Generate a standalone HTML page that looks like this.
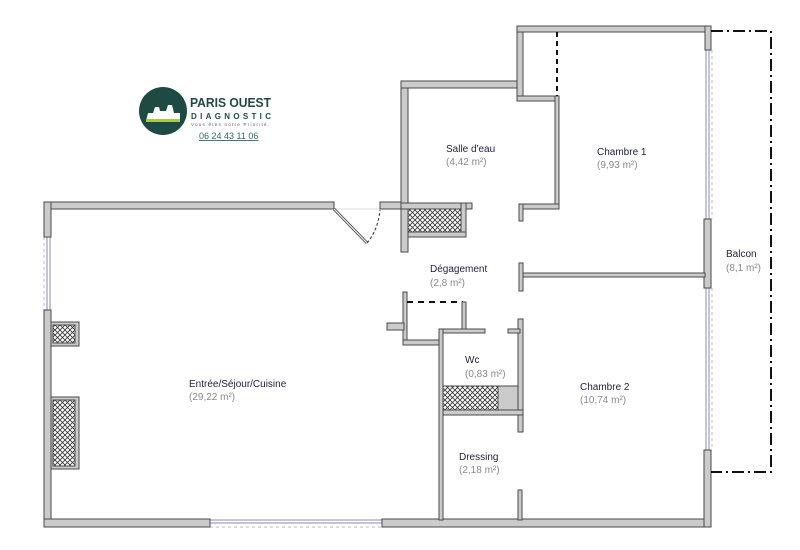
<!DOCTYPE html>
<html><head><meta charset="utf-8"><style>
html,body{margin:0;padding:0;background:#fff;}
svg{display:block;}
.l{font-family:"Liberation Sans",sans-serif;font-size:10px;fill:#22223f;}
.a{font-family:"Liberation Sans",sans-serif;font-size:10px;fill:#8a8a8a;}
.w{fill:#cbcbcb;stroke:#4a4a4a;stroke-width:1;}
.h{fill:url(#hatch);stroke:#4a4a4a;stroke-width:1;}
</style></head><body>
<svg width="800" height="550" viewBox="0 0 800 550" xmlns="http://www.w3.org/2000/svg">
<defs>
<pattern id="hatch" width="5" height="5" patternUnits="userSpaceOnUse">
<rect width="5" height="5" fill="#fff"/>
<path d="M0 0L5 5M5 0L0 5" stroke="#333" stroke-width="0.8"/>
</pattern>
</defs>

<!-- logo -->
<circle cx="163" cy="111" r="24" fill="#1e4a44"/>
<path d="M146 121 L148 113 L153 113 L155 107 L159 107 L160 111 L166 111 L168 105 L172 105 L174 113 L180 113 L180 121 Z" fill="#fff"/>
<rect x="146" y="119" width="34" height="3" fill="#a9c94a"/>
<text x="190" y="107" font-family="Liberation Sans,sans-serif" font-size="12.5" font-weight="bold" fill="#1e4a44" textLength="81" lengthAdjust="spacingAndGlyphs">PARIS OUEST</text>
<text x="191" y="119" font-family="Liberation Sans,sans-serif" font-size="8" font-weight="bold" fill="#1e4a44" textLength="80" lengthAdjust="spacing">DIAGNOSTIC</text>
<text x="191" y="126" font-family="Liberation Sans,sans-serif" font-size="4.5" fill="#556" textLength="78" lengthAdjust="spacing">Vous êtes notre Priorité.</text>
<text x="199" y="139" font-family="Liberation Sans,sans-serif" font-size="9" fill="#2e6b5e" text-decoration="underline">06 24 43 11 06</text>

<!-- windows (thin lines) -->
<g stroke="#8888bb" stroke-width="1" fill="none">
<line x1="47" y1="237" x2="47" y2="310"/><line x1="50" y1="237" x2="50" y2="310"/>
<line x1="210" y1="520" x2="382" y2="520"/><line x1="210" y1="523" x2="382" y2="523"/>
<line x1="706" y1="50" x2="706" y2="219"/><line x1="709" y1="50" x2="709" y2="219"/>
<line x1="706" y1="288" x2="706" y2="450"/><line x1="709" y1="288" x2="709" y2="450"/>
</g>
<g stroke="#bbb" stroke-width="1" stroke-dasharray="3,3" fill="none">
<line x1="44" y1="237" x2="44" y2="310"/>
<line x1="210" y1="527" x2="382" y2="527"/>
<line x1="712" y1="50" x2="712" y2="219"/>
<line x1="712" y1="288" x2="712" y2="450"/>
</g>
<line x1="334" y1="209" x2="380" y2="209" stroke="#ccc" stroke-width="0.8"/>

<!-- living outer -->
<rect class="w" x="44" y="202" width="290" height="7"/>
<rect class="w" x="44" y="202" width="7" height="35"/>
<rect class="w" x="44" y="310" width="7" height="217"/>
<rect class="w" x="44" y="519" width="166" height="8"/>
<rect class="w" x="382" y="519" width="329" height="8"/>
<rect class="w" x="380" y="202" width="27" height="7"/>
<rect class="w" x="51" y="322" width="28" height="24"/>
<rect class="h" x="53" y="325" width="22" height="18"/>
<rect class="w" x="51" y="397" width="28" height="72"/>
<rect class="h" x="53" y="400" width="22" height="66"/>
<!-- door -->
<line x1="334" y1="209" x2="367" y2="243" stroke="#555" stroke-width="3"/>
<line x1="334" y1="209" x2="367" y2="243" stroke="#eee" stroke-width="1.2"/>
<path d="M367 243 Q378 230 380 210" fill="none" stroke="#333" stroke-width="1" stroke-dasharray="3,2"/>

<!-- salle d'eau -->
<rect class="w" x="401" y="81" width="7" height="171"/>
<rect class="w" x="401" y="81" width="122" height="7"/>
<rect class="w" x="517" y="26" width="6" height="72"/>
<rect class="w" x="517" y="26" width="194" height="6"/>
<rect class="w" x="517" y="96" width="42" height="5"/>
<rect class="w" x="555" y="96" width="4" height="113"/>
<rect class="w" x="519" y="204" width="40" height="5"/>
<rect class="w" x="519" y="204" width="4" height="17"/>
<rect class="w" x="401" y="203" width="71" height="6"/>
<rect class="w" x="461" y="203" width="5" height="34"/>
<rect class="w" x="408" y="232" width="58" height="5"/>
<rect class="h" x="408" y="209" width="53" height="23"/>
<line x1="557" y1="32" x2="557" y2="96" stroke="#111" stroke-width="2" stroke-dasharray="5,4"/>

<!-- chambre 1 right -->
<rect class="w" x="705" y="26" width="6" height="24"/>
<rect class="w" x="704" y="219" width="7" height="69"/>
<rect class="w" x="704" y="450" width="7" height="77"/>
<rect class="w" x="519" y="273" width="186" height="4"/>
<rect class="w" x="519" y="263" width="4" height="28"/>

<!-- balcon -->
<path d="M711 31 L771 31 L771 472 L711 472" fill="none" stroke="#111" stroke-width="2" stroke-dasharray="12,4,2,4"/>

<!-- degagement / wc -->
<rect class="w" x="403" y="292" width="4" height="53"/>
<line x1="407" y1="302" x2="463" y2="302" stroke="#111" stroke-width="2" stroke-dasharray="6,5"/>
<rect class="w" x="462" y="302" width="4" height="31"/>
<rect class="w" x="387" y="323" width="17" height="7"/>
<rect class="w" x="403" y="340" width="39" height="5"/>
<rect class="w" x="439" y="329" width="46" height="4"/>
<rect class="w" x="439" y="329" width="4" height="191"/>
<rect class="w" x="518" y="319" width="5" height="113"/>
<rect class="w" x="508" y="329" width="12" height="4"/>
<rect class="h" x="443" y="386" width="55" height="24"/>
<rect class="w" x="498" y="386" width="20" height="24"/>
<rect class="w" x="443" y="410" width="80" height="5"/>
<rect class="w" x="518" y="490" width="4" height="30"/>

<!-- labels -->
<text class="l" x="446" y="152">Salle d'eau</text>
<text class="a" x="446" y="165">(4,42 m²)</text>
<text class="l" x="597" y="155">Chambre 1</text>
<text class="a" x="597" y="168">(9,93 m²)</text>
<text class="l" x="430" y="272">Dégagement</text>
<text class="a" x="430" y="286">(2,8 m²)</text>
<text class="l" x="465" y="363">Wc</text>
<text class="a" x="465" y="377">(0,83 m²)</text>
<text class="l" x="189" y="387">Entrée/Séjour/Cuisine</text>
<text class="a" x="189" y="400">(29,22 m²)</text>
<text class="l" x="580" y="390">Chambre 2</text>
<text class="a" x="580" y="403">(10,74 m²)</text>
<text class="l" x="459" y="460">Dressing</text>
<text class="a" x="459" y="473">(2,18 m²)</text>
<text class="l" x="726" y="257">Balcon</text>
<text class="a" x="726" y="271">(8,1 m²)</text>
</svg>
</body></html>
